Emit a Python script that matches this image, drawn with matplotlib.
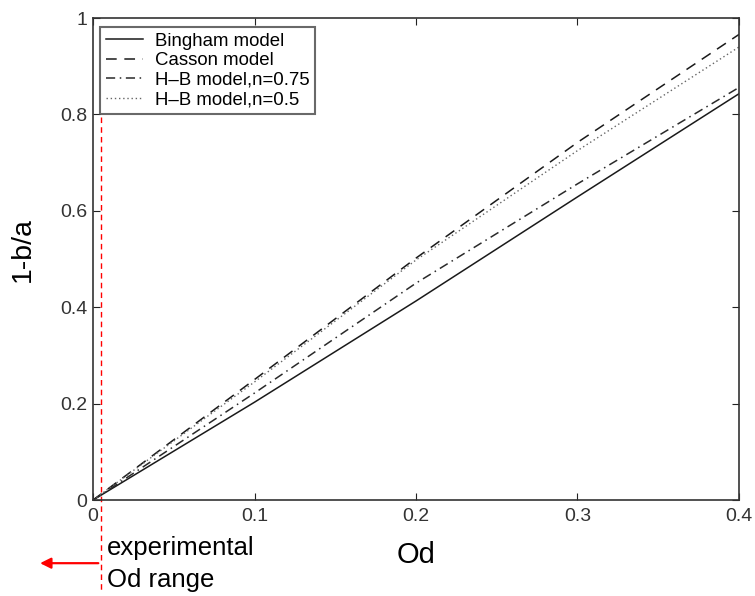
import matplotlib
matplotlib.use("Agg")
import matplotlib.pyplot as plt

plt.rcParams['font.family'] = ['Liberation Sans', 'DejaVu Sans']

od = [0.0, 0.1, 0.2, 0.3, 0.4]
bingham = [0.0, 0.203, 0.413, 0.629, 0.843]
casson = [0.0, 0.25, 0.502, 0.742, 0.966]
hb_075 = [0.0, 0.222, 0.45, 0.656, 0.856]
hb_05 = [0.0, 0.245, 0.498, 0.725, 0.94]

xticks = [0, 0.1, 0.2, 0.3, 0.4]
xticklabels = ['0', '0.1', '0.2', '0.3', '0.4']
yticks = [0, 0.2, 0.4, 0.6, 0.8, 1.0]
yticklabels = ['0', '0.2', '0.4', '0.6', '0.8', '1']

fig = plt.figure(figsize=(7.55, 5.96), dpi=100)
ax = fig.add_axes([0.1232, 0.161, 0.8556, 0.8087])

ax.plot(od, bingham, color='#1a1a1a', lw=1.1, ls='-', label='Bingham model')
ax.plot(od, casson, color='#1a1a1a', lw=1.1, ls=(0, (7, 5)), label='Casson model')
ax.plot(od, hb_075, color='#2a2a2a', lw=1.1, ls=(0, (6, 3, 1, 3)), label='H\u2013B model,n=0.75')
ax.plot(od, hb_05, color='#666666', lw=1.0, ls=(0, (1, 2)), label='H\u2013B model,n=0.5')

ax.set_xlim(0, 0.4)
ax.set_ylim(0, 1)
ax.set_xticks(xticks)
ax.set_xticklabels(xticklabels)
ax.set_yticks(yticks)
ax.set_yticklabels(yticklabels)
ax.tick_params(direction='in', labelsize=14, length=5, top=True, right=True,
               colors='#222222', labelcolor='#333333')
ax.tick_params(axis='y', pad=4)
ax.tick_params(axis='x', pad=6)
for s in ax.spines.values():
    s.set_color('#333333')
    s.set_linewidth(1.2)

ax.set_xlabel('Od', fontsize=21)
ax.set_ylabel('1-b/a', fontsize=20.5)
ax.xaxis.set_label_coords(0.5, -0.085)
ax.yaxis.set_label_coords(-0.088, 0.52)

leg = ax.legend(loc='upper left', fontsize=13.4, frameon=True, fancybox=False,
                edgecolor='#444444', borderpad=0.3, labelspacing=0.13,
                handlelength=2.0, handletextpad=0.65, borderaxespad=0.0,
                bbox_to_anchor=(0.011, 0.981))
leg.get_frame().set_linewidth(1.5)

# red marker of the experimental Od range
ax.plot([0.005, 0.005], [0.795, -0.19], color='red', lw=1.0, ls=(0, (4, 3)), clip_on=False)
ax.annotate('', xy=(-0.0345, -0.131), xytext=(0.005, -0.131),
            arrowprops=dict(arrowstyle='-|>', color='red', lw=1.6, mutation_scale=16),
            annotation_clip=False)
ax.text(0.0085, -0.074, 'experimental\nOd range', fontsize=18.5, va='top', ha='left',
        linespacing=1.45)

fig.savefig('out.png', dpi=100)
